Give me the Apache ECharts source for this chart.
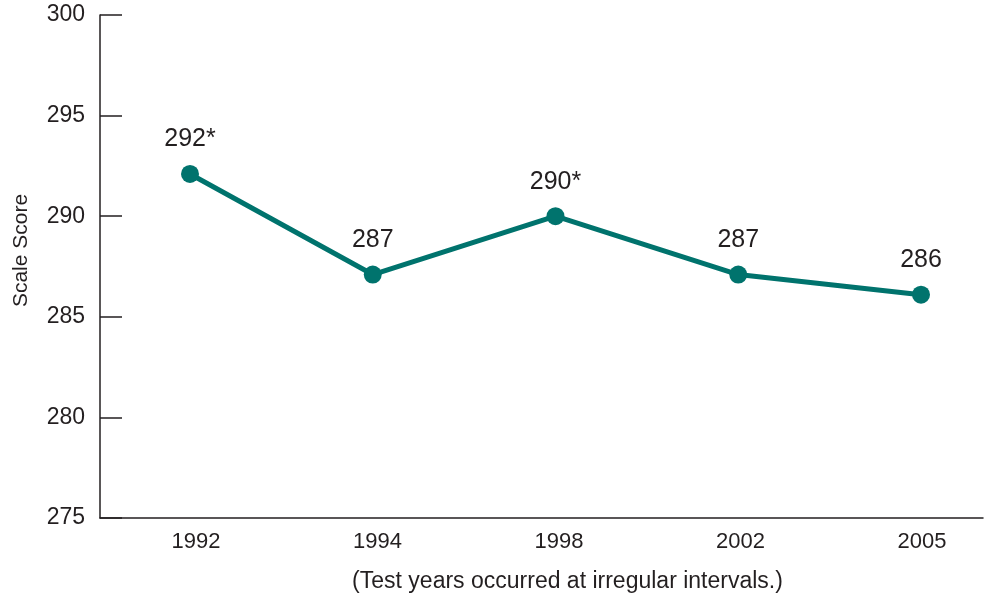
<!DOCTYPE html>
<html>
<head>
<meta charset="utf-8">
<script src="https://cdn.jsdelivr.net/npm/echarts@6/dist/echarts.min.js"></script>
<style>
  html, body { margin: 0; padding: 0; background: #fff; }
  #chart { width: 987px; height: 596px; }
</style>
</head>
<body>
<div id="chart"></div>
<script>
// Scale scores by test year
const years = ["1992", "1994", "1998", "2002", "2005"];
const scores = [292.1, 287.1, 290.0, 287.1, 286.1];
const scoreLabels = ["292*", "287", "290*", "287", "286"];
const yTicks = { min: 275, max: 300, step: 5 };

const fontFamily = "Liberation Sans, Arial, sans-serif";
const textColor = "#231f20";
const lineColor = "#00736d";

const chart = echarts.init(document.getElementById("chart"), null, { renderer: "canvas" });

const plotTop = 15;
const plotBottom = 78;

chart.setOption({
  animation: false,
  backgroundColor: "#fff",
  textStyle: { fontFamily: fontFamily, color: textColor },
  grid: [
    // frame grid: axis lines, ticks, y labels, axis names
    { left: 100, right: 4, top: plotTop, bottom: plotBottom, outerBoundsMode: "none" },
    // data grid: category positions inset from the frame
    { left: 190, right: 66, top: plotTop, bottom: plotBottom, outerBoundsMode: "none" },
    // year label grid (labels sit a touch right of the points in the original)
    { left: 196, right: 65, top: plotTop, bottom: plotBottom, outerBoundsMode: "none" }
  ],
  xAxis: [
    {
      gridIndex: 0,
      type: "value",
      min: 0,
      max: 1,
      axisLine: { lineStyle: { color: "#231f20", width: 1.5 } },
      axisTick: { show: false },
      axisLabel: { show: false },
      splitLine: { show: false },
      name: "(Test years occurred at irregular intervals.)",
      nameLocation: "middle",
      nameGap: 52,
      nameTextStyle: { fontSize: 23, color: textColor, fontFamily: fontFamily, padding: [0, 0, 0, 52] }
    },
    {
      gridIndex: 1,
      type: "category",
      boundaryGap: false,
      data: years,
      show: false
    },
    {
      gridIndex: 2,
      type: "category",
      boundaryGap: false,
      data: years,
      axisLine: { show: false },
      axisTick: { show: false },
      axisLabel: { fontSize: 22, color: textColor, margin: 13, fontFamily: fontFamily },
      splitLine: { show: false }
    }
  ],
  yAxis: [
    {
      gridIndex: 0,
      type: "value",
      min: yTicks.min,
      max: yTicks.max,
      interval: yTicks.step,
      axisLine: { show: true, lineStyle: { color: "#231f20", width: 1.5 } },
      axisTick: { show: true, inside: true, length: 22, lineStyle: { color: "#231f20", width: 1.5 } },
      axisLabel: { fontSize: 23, color: textColor, margin: 15, fontFamily: fontFamily },
      splitLine: { show: false },
      name: "Scale Score",
      nameLocation: "middle",
      nameRotate: 90,
      nameGap: 68,
      nameTextStyle: { fontSize: 21, color: textColor, fontFamily: fontFamily, padding: [0, 0, 0, 32] }
    },
    {
      gridIndex: 1,
      type: "value",
      min: yTicks.min,
      max: yTicks.max,
      interval: yTicks.step,
      show: false
    },
    {
      gridIndex: 2,
      type: "value",
      min: yTicks.min,
      max: yTicks.max,
      interval: yTicks.step,
      show: false
    }
  ],
  series: [
    {
      type: "line",
      xAxisIndex: 1,
      yAxisIndex: 1,
      data: scores,
      symbol: "circle",
      symbolSize: 18,
      lineStyle: { color: lineColor, width: 5 },
      itemStyle: { color: lineColor },
      label: {
        show: true,
        position: "top",
        distance: 13,
        fontSize: 25,
        color: textColor,
        fontFamily: fontFamily,
        formatter: (p) => scoreLabels[p.dataIndex]
      }
    }
  ]
});
</script>
</body>
</html>
